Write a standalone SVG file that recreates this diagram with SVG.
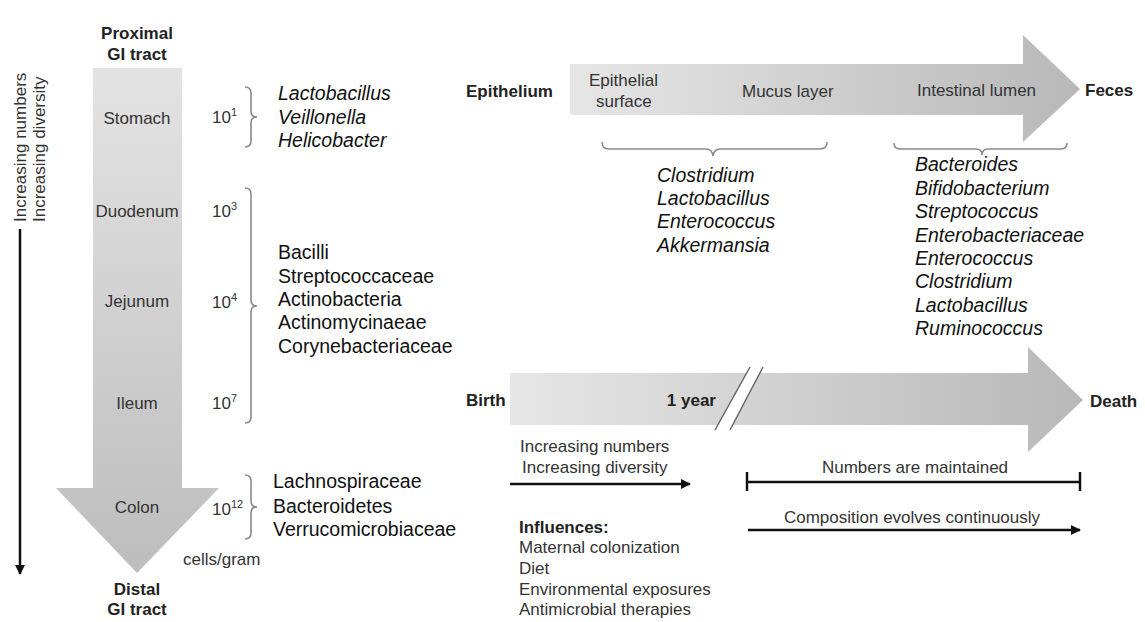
<svg xmlns="http://www.w3.org/2000/svg" width="1145" height="622" viewBox="0 0 1145 622">
<style>
text{font-family:"Liberation Sans",Arial,sans-serif;fill:#222;}
.lb{font-size:17px;fill:#333;}
.b{font-size:17px;font-weight:bold;fill:#222;}
.sp{font-size:19.5px;font-style:italic;fill:#111;}
.tx{font-size:19.5px;fill:#111;}
.br{fill:none;stroke:#8a8a8a;stroke-width:1.6;}
.ln{stroke:#111;stroke-width:2.5;fill:none;}
.sup{font-size:11px;}
</style>
<defs>
<linearGradient id="gv" x1="0" y1="0" x2="0" y2="1">
<stop offset="0" stop-color="#e3e3e3"/><stop offset="1" stop-color="#bdbdbd"/>
</linearGradient>
<linearGradient id="gh" x1="0" y1="0" x2="1" y2="0">
<stop offset="0" stop-color="#e6e6e6"/><stop offset="1" stop-color="#b8b8b8"/>
</linearGradient>
<marker id="ah" viewBox="0 0 10 10" refX="9" refY="5" markerWidth="5" markerHeight="4" orient="auto" markerUnits="strokeWidth">
<path d="M0,0 L10,5 L0,10 z" fill="#111"/>
</marker>
</defs>

<g id="gi-arrow">
<path d="M93,68 H182 V488 H219 L137,573 L56,488 H93 Z" fill="url(#gv)"/>
</g>

<g id="trend-arrow">
<line x1="20" y1="229" x2="20" y2="574" class="ln" marker-end="url(#ah)"/>
<text class="lb" transform="translate(26,222) rotate(-90)">Increasing numbers</text>
<text class="lb" transform="translate(45,222) rotate(-90)">Increasing diversity</text>
</g>

<g id="gi-labels">
<text class="b" x="137" y="39" text-anchor="middle">Proximal</text>
<text class="b" x="137" y="60" text-anchor="middle">GI tract</text>
<text class="lb" x="137" y="124" text-anchor="middle">Stomach</text>
<text class="lb" x="137" y="217" text-anchor="middle">Duodenum</text>
<text class="lb" x="137" y="307" text-anchor="middle">Jejunum</text>
<text class="lb" x="137" y="409" text-anchor="middle">Ileum</text>
<text class="lb" x="137" y="513" text-anchor="middle">Colon</text>
<text class="b" x="137" y="595" text-anchor="middle">Distal</text>
<text class="b" x="137" y="615" text-anchor="middle">GI tract</text>
<text class="lb" x="183" y="565">cells/gram</text>
</g>

<g id="counts">
<text class="lb" x="212" y="123">10<tspan class="sup" dy="-7">1</tspan></text>
<text class="lb" x="212" y="217">10<tspan class="sup" dy="-7">3</tspan></text>
<text class="lb" x="212" y="308">10<tspan class="sup" dy="-7">4</tspan></text>
<text class="lb" x="212" y="409">10<tspan class="sup" dy="-7">7</tspan></text>
<text class="lb" x="212" y="515">10<tspan class="sup" dy="-7">12</tspan></text>
</g>

<g id="braces">
<path class="br" d="M245,87 q6,0 6,6 v18 q0,6 6,6 q-6,0 -6,6 v18 q0,6 -6,6"/>
<path class="br" d="M245,188 q6,0 6,6 v106 q0,6 6,6 q-6,0 -6,6 v105 q0,6 -6,6"/>
<path class="br" d="M245,475 q6,0 6,6 v20 q0,6 6,6 q-6,0 -6,6 v20 q0,6 -6,6"/>
<path class="br" d="M602,142 q0,7 7,7 h97 q6,0 7,7 q1,-7 7,-7 h100 q7,0 7,-7"/>
<path class="br" d="M894,143 q0,6 6,6 h76 q6,0 6,6 q0,-6 6,-6 h73 q6,0 6,-6"/>
</g>

<g id="stomach-taxa">
<text class="sp" x="278" y="100">Lactobacillus</text>
<text class="sp" x="278" y="124">Veillonella</text>
<text class="sp" x="278" y="147">Helicobacter</text>
</g>

<g id="small-intestine-taxa">
<text class="tx" x="278" y="259">Bacilli</text>
<text class="tx" x="278" y="283">Streptococcaceae</text>
<text class="tx" x="278" y="306">Actinobacteria</text>
<text class="tx" x="278" y="329">Actinomycinaeae</text>
<text class="tx" x="278" y="353">Corynebacteriaceae</text>
</g>

<g id="colon-taxa">
<text class="tx" x="273" y="488">Lachnospiraceae</text>
<text class="tx" x="273" y="513">Bacteroidetes</text>
<text class="tx" x="273" y="536">Verrucomicrobiaceae</text>
</g>

<g id="radial-arrow">
<path d="M570,64 H1023 V35 L1080,89 L1023,142 V115 H570 Z" fill="url(#gh)"/>
<text class="b" x="466" y="97">Epithelium</text>
<text class="lb" x="589" y="86">Epithelial</text>
<text class="lb" x="596" y="107">surface</text>
<text class="lb" x="742" y="97">Mucus layer</text>
<text class="lb" x="917" y="96">Intestinal lumen</text>
<text class="b" x="1085" y="96">Feces</text>
</g>

<g id="mucus-taxa">
<text class="sp" x="657" y="182">Clostridium</text>
<text class="sp" x="657" y="205">Lactobacillus</text>
<text class="sp" x="657" y="228">Enterococcus</text>
<text class="sp" x="657" y="252">Akkermansia</text>
</g>

<g id="lumen-taxa">
<text class="sp" x="915" y="171">Bacteroides</text>
<text class="sp" x="915" y="195">Bifidobacterium</text>
<text class="sp" x="915" y="218">Streptococcus</text>
<text class="sp" x="915" y="242">Enterobacteriaceae</text>
<text class="sp" x="915" y="265">Enterococcus</text>
<text class="sp" x="915" y="288">Clostridium</text>
<text class="sp" x="915" y="312">Lactobacillus</text>
<text class="sp" x="915" y="335">Ruminococcus</text>
</g>

<g id="life-arrow">
<path d="M510,373 H1028 V347 L1083,400 L1028,452 V425 H510 Z" fill="url(#gh)"/>
<polygon points="715,430 750,367 763,367 730,430" fill="#fff"/>
<line x1="715" y1="430" x2="750" y2="367" stroke="#666" stroke-width="1.5"/>
<line x1="730" y1="430" x2="763" y2="367" stroke="#666" stroke-width="1.5"/>
<text class="b" x="466" y="406">Birth</text>
<text class="b" x="716" y="406" text-anchor="end">1 year</text>
<text class="b" x="1090" y="407">Death</text>
</g>

<g id="connectors">
<line x1="510" y1="484" x2="690" y2="484" class="ln" stroke-width="2" marker-end="url(#ah)"/>
<line x1="747" y1="482" x2="1080" y2="482" class="ln"/>
<line x1="747" y1="472" x2="747" y2="491" class="ln"/>
<line x1="1080" y1="472" x2="1080" y2="491" class="ln"/>
<line x1="748" y1="530" x2="1080" y2="530" class="ln" stroke-width="2" marker-end="url(#ah)"/>
</g>

<g id="life-labels">
<text class="lb" x="520" y="452">Increasing numbers</text>
<text class="lb" x="522" y="473">Increasing diversity</text>
<text class="lb" x="915" y="473" text-anchor="middle">Numbers are maintained</text>
<text class="lb" x="912" y="523" text-anchor="middle">Composition evolves continuously</text>
<text class="b" x="519" y="533">Influences:</text>
<text class="lb" x="519" y="553">Maternal colonization</text>
<text class="lb" x="519" y="574">Diet</text>
<text class="lb" x="519" y="595">Environmental exposures</text>
<text class="lb" x="519" y="615">Antimicrobial therapies</text>
</g>
</svg>
